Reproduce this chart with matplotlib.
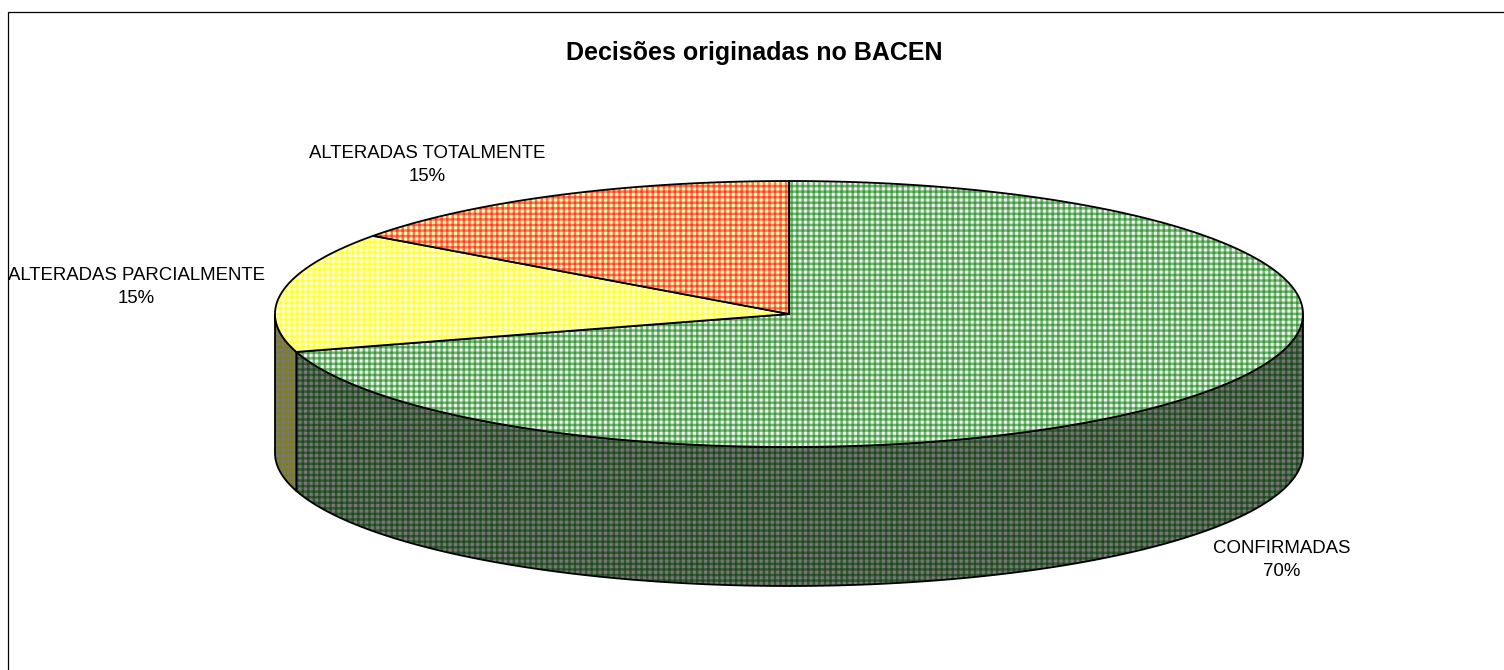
# coding=utf-8
import numpy as np
import matplotlib
matplotlib.use('Agg')
import matplotlib.pyplot as plt
from matplotlib.patches import Polygon, Rectangle

plt.rcParams['font.family'] = ['Liberation Sans', 'DejaVu Sans']
plt.rcParams['hatch.linewidth'] = 1.8

titulo = u'Decisões originadas no BACEN'
categorias = ['CONFIRMADAS', 'ALTERADAS PARCIALMENTE', 'ALTERADAS TOTALMENTE']
valores = [70.4, 14.6, 15]

# (fondo claro, color del tramado)
colores_tapa = [('#f0f0f0', '#008000'), ('#ffffe0', '#ffff00'), ('#ffffb0', '#ff0000')]
colores_lado = [('#787878', '#003c00'), ('#787878', '#808000'), ('#787878', '#800000')]

# posiciones de etiquetas en pixeles
pos_etiquetas = [(1282, 560), (136, 287), (427, 165)]

cx, cy = 789, 314
a, b = 514, 133
prof = 139


def punto(t, dy=0):
    return np.column_stack([cx + a*np.sin(t), cy - b*np.cos(t) + dy])


def tramado(ax, xy, claro, color, z):
    ax.add_patch(Polygon(xy, closed=True, facecolor=claro, edgecolor='none', zorder=z))
    for h in ['---', '|||']:
        ax.add_patch(Polygon(xy, closed=True, facecolor='none', linewidth=0,
                             edgecolor=matplotlib.colors.to_rgba(color, 0.52), hatch=h, zorder=z))
    ax.add_patch(Polygon(xy, closed=True, facecolor='none', edgecolor='black', linewidth=1.3, zorder=z))


fig = plt.figure(figsize=(15.04, 6.7), dpi=100)
ax = fig.add_axes([0, 0, 1, 1])
ax.set_xlim(0, 1504)
ax.set_ylim(670, 0)
ax.axis('off')

ax.add_patch(Rectangle((8, 12), 1600, 800, facecolor='white', edgecolor='black', linewidth=0.9, zorder=0))

acum = np.cumsum([0] + valores) / float(sum(valores)) * 2*np.pi

for i in range(len(valores)):
    t0, t1 = max(acum[i], np.pi/2), min(acum[i+1], 3*np.pi/2)
    if t1 > t0:
        t = np.linspace(t0, t1, 300)
        xy = np.vstack([punto(t), punto(t[::-1], prof)])
        tramado(ax, xy, colores_lado[i][0], colores_lado[i][1], 2)

for i in range(len(valores)):
    t = np.linspace(acum[i], acum[i+1], 400)
    xy = np.vstack([[[cx, cy]], punto(t)])
    tramado(ax, xy, colores_tapa[i][0], colores_tapa[i][1], 3)

ax.text(754, 53, titulo, ha='center', va='center', fontsize=18, fontweight='bold', color='black', zorder=5)
for nombre, v, (x, y) in zip(categorias, valores, pos_etiquetas):
    ax.text(x, y, u'{}\n{}%'.format(nombre, int(round(v))), ha='center', va='center', fontsize=13.4,
            linespacing=1.5, color='black', zorder=5)

plt.savefig('out.png', dpi=100)
